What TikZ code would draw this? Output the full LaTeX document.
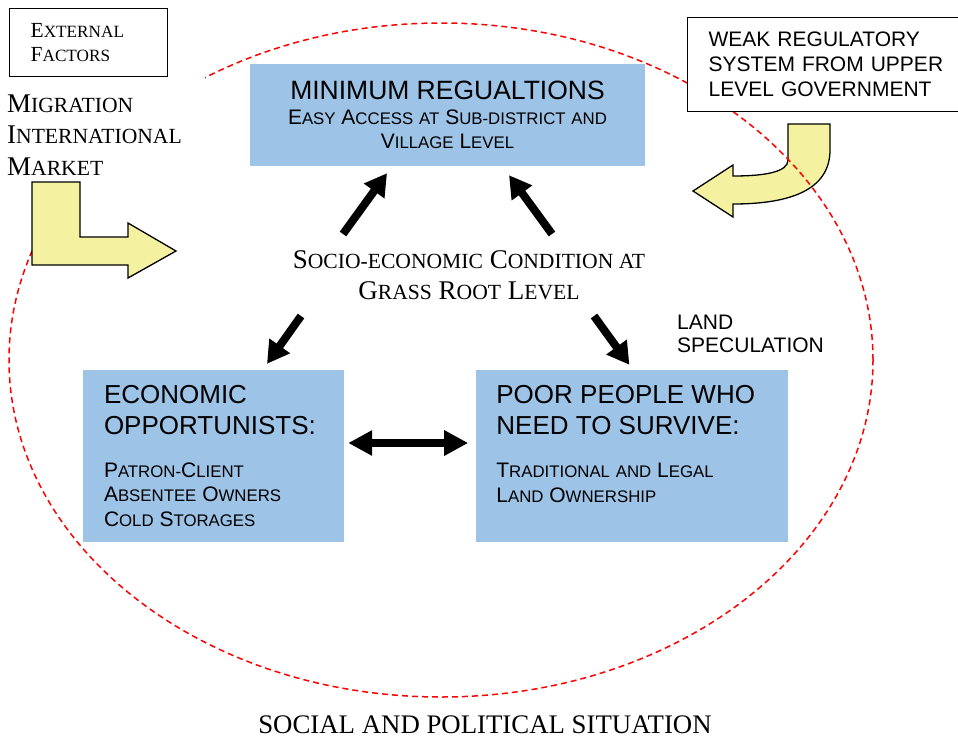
\documentclass[tikz,border=0pt]{standalone}
\usepackage{fontspec}
\setmainfont{Liberation Serif}
\setsansfont{Liberation Sans}
\usetikzlibrary{arrows.meta,positioning}
\definecolor{boxblue}{RGB}{157,195,230}
\definecolor{arrowyellow}{RGB}{244,241,160}
\makeatletter
\newcommand\lsc[1]{{\fontsize{\fpeval{0.8*\f@size}}{\f@baselineskip}\selectfont #1}}
\makeatother
\newcommand\bigsf{\sffamily\fontsize{26}{31}\selectfont\spaceskip=\fontdimen2\font\xspaceskip=\fontdimen2\font}
\newcommand\smallsf{\sffamily\fontsize{21}{24.5}\selectfont\spaceskip=\fontdimen2\font\xspaceskip=\fontdimen2\font}

\begin{document}
\begin{tikzpicture}[x=1pt,y=-1pt,
  bluebox/.style={fill=boxblue,inner ysep=0pt,align=left,minimum height=172pt,font=\smallsf},
  framebox/.style={draw,line width=1.3pt,fill=white,anchor=north west,align=left},
  fatarrow/.style={line width=8pt,-{Triangle[length=22pt,width=24pt]}},
  bentarrow/.style={draw,line width=1.3pt,fill=arrowyellow,line join=miter}]
  \useasboundingbox (0,0) rectangle (958,737);
  \path[bentarrow] (788,124) -- (830,124) -- (830,150) .. controls (830,190) and (790,204) .. (733,204)
    -- (733,217) -- (693,191) -- (733,165) -- (733,176) .. controls (765,176) and (788,172) .. (788,160) -- cycle;
  \draw[red,line width=1.5pt,dash pattern=on 6pt off 4pt] (441,360) ellipse [x radius=432pt,y radius=337pt];

  \node[framebox,text width=116pt,inner xsep=21pt,inner ysep=15pt,font=\rmfamily\fontsize{21.5}{24}\selectfont]
    (ext) at (9,8) {E\lsc{XTERNAL}\\F\lsc{ACTORS}};
  \node[below right=-1pt and -2pt of ext.south west,fill=white,inner xsep=0pt,inner ysep=18pt,
    text width=198pt,align=left,font=\rmfamily\fontsize{27}{31.5}\selectfont]
    (mig) {M\lsc{IGRATION}\\I\lsc{NTERNATIONAL}\\M\lsc{ARKET}};
  \node[framebox,text width=270pt,inner xsep=21pt,inner ysep=14.5pt,font=\sffamily\fontsize{21}{25}\selectfont]
    (wr) at (687,17) {WEAK REGULATORY\\SYSTEM FROM UPPER\\LEVEL GOVERNMENT};
  \path[bentarrow] (32,182) -- (80,182) -- (80,237) -- (128,237) -- (128,223) -- (176,251)
    -- (128,278) -- (128,265) -- (32,265) -- cycle;

  \node[bluebox,text width=395pt,inner xsep=0pt,align=center,minimum height=102pt] (mr) at (447.5,115)
    {{\bigsf\fontsize{26.5}{31}\selectfont MINIMUM REGUALTIONS\par}
     \smallsf E\lsc{ASY} A\lsc{CCESS AT} S\lsc{UB-DISTRICT AND}\\V\lsc{ILLAGE} L\lsc{EVEL}};
  \node[inner sep=0pt,align=center,font=\rmfamily\fontsize{27}{31}\selectfont] (soc) at (469,275)
    {S\lsc{OCIO-ECONOMIC} C\lsc{ONDITION AT}\\G\lsc{RASS} R\lsc{OOT} L\lsc{EVEL}};
  \node[bluebox,text width=219pt,inner xsep=21pt] (eo) at (213.5,456)
    {{\bigsf ECONOMIC\\OPPORTUNISTS:\par}\vspace{18.5pt}
     \smallsf P\lsc{ATRON-}C\lsc{LIENT}\\A\lsc{BSENTEE} O\lsc{WNERS}\\C\lsc{OLD} S\lsc{TORAGES}};
  \node[bluebox,text width=272pt,inner xsep=20pt,right=132pt of eo] (pp)
    {{\bigsf POOR PEOPLE WHO\\NEED TO SURVIVE:\par}\vspace{18.5pt}
     \smallsf T\lsc{RADITIONAL AND} L\lsc{EGAL}\\L\lsc{AND} O\lsc{WNERSHIP}\\\mbox{}};
  \node[anchor=north west,inner sep=0pt,align=left,font=\sffamily\fontsize{21}{23}\selectfont]
    (land) at (677,315) {LAND\\SPECULATION};
  \node[anchor=base,inner sep=0pt,font=\rmfamily\fontsize{26.8}{30}\selectfont]
    (sps) at (485,733) {SOCIAL AND POLITICAL SITUATION};

  \draw[fatarrow] ([shift={(-126,-41)}]soc.center) -- ([shift={(-60.5,7)}]mr.south);
  \draw[fatarrow] ([shift={(83,-41)}]soc.center) -- ([shift={(61.5,9)}]mr.south);
  \draw[fatarrow] ([shift={(-168,41)}]soc.center) -- ([shift={(53.5,-6)}]eo.north);
  \draw[fatarrow] ([shift={(125,41)}]soc.center) -- ([shift={(-3,-5)}]pp.north);
  \draw[fatarrow,{Triangle[length=24pt,width=24pt]}-{Triangle[length=24pt,width=24pt]}]
    ([shift={(4,-13)}]eo.east) -- ([shift={(-8,-13)}]pp.west);
\end{tikzpicture}
\end{document}
